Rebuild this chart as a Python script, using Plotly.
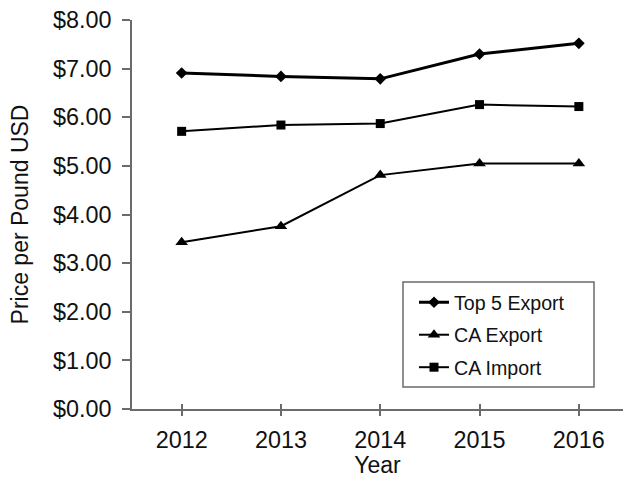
import plotly.graph_objects as go

# Average price per pound, 2012-2016
years = [2012, 2013, 2014, 2015, 2016]
top5_export = [6.91, 6.84, 6.79, 7.30, 7.52]
ca_export = [3.43, 3.76, 4.81, 5.05, 5.05]
ca_import = [5.71, 5.84, 5.87, 6.26, 6.22]

FONT = "Liberation Sans, Arial, sans-serif"
AXIS_COLOR = "#6b6b6b"
TEXT_COLOR = "#111111"

fig = go.Figure()

fig.add_trace(go.Scatter(
    x=years, y=top5_export, name="Top 5 Export", mode="lines+markers",
    line=dict(color="black", width=3),
    marker=dict(symbol="diamond", size=9, color="black"),
    legendgroup="a",
))
fig.add_trace(go.Scatter(
    x=years, y=ca_export, name="CA Export", mode="lines+markers",
    line=dict(color="black", width=2),
    marker=dict(symbol="triangle-up", size=11, color="black"),
    legendgroup="b",
))
fig.add_trace(go.Scatter(
    x=years, y=ca_import, name="CA Import", mode="lines+markers",
    line=dict(color="black", width=2),
    marker=dict(symbol="square", size=9, color="black"),
    legendgroup="c",
))
# invisible helper trace so the overlay axis (inner half of the crossing ticks) renders
fig.add_trace(go.Scatter(
    x=years, y=ca_import, xaxis="x2", mode="markers",
    marker=dict(opacity=0), showlegend=False, hoverinfo="skip",
))

W, H = 623, 478
ML, MT, MB, MR = 132, 20, 69, 0
x_lo = 2011.5
x_hi = x_lo + (W - ML - MR) / 99.3

fig.update_layout(
    width=W, height=H,
    margin=dict(l=ML, r=MR, t=MT, b=MB),
    paper_bgcolor="white", plot_bgcolor="white",
    font=dict(family=FONT, size=23, color=TEXT_COLOR),
    xaxis=dict(
        range=[x_lo, x_hi], tickvals=years, ticktext=[str(y) for y in years],
        showgrid=False, zeroline=False,
        showline=True, linecolor=AXIS_COLOR, linewidth=1.5,
        ticks="outside", ticklen=5, tickwidth=1.5, tickcolor=AXIS_COLOR,
        tickfont=dict(size=23.4), ticklabelstandoff=4,
        title=dict(text="Year", font=dict(size=23), standoff=4),
    ),
    xaxis2=dict(
        overlaying="x", matches="x", anchor="y",
        tickvals=years, showticklabels=False,
        showgrid=False, zeroline=False, showline=False,
        ticks="inside", ticklen=5, tickwidth=1.5, tickcolor=AXIS_COLOR,
    ),
    yaxis=dict(
        range=[0, 8], dtick=1, tick0=0,
        tickprefix="$", tickformat=".2f",
        showgrid=False, zeroline=False,
        showline=True, linecolor=AXIS_COLOR, linewidth=1.5,
        ticks="outside", ticklen=8, tickwidth=1.5, tickcolor=AXIS_COLOR,
        tickfont=dict(size=23.4), ticklabelstandoff=6,
        title=dict(text="Price per Pound USD", font=dict(size=23), standoff=18),
    ),
    legend=dict(
        x=(414 - ML) / (W - ML - MR), xanchor="left",
        y=(H - MB - 283) / (H - MT - MB), yanchor="top",
        bgcolor="rgba(0,0,0,0)", borderwidth=0,
        font=dict(size=19.6, family=FONT, color=TEXT_COLOR),
        tracegroupgap=4,
    ),
    shapes=[dict(
        type="rect", xref="paper", yref="paper",
        x0=(403 - ML) / (W - ML - MR), x1=(594 - ML) / (W - ML - MR),
        y0=(H - MB - 387) / (H - MT - MB), y1=(H - MB - 282) / (H - MT - MB),
        line=dict(color=AXIS_COLOR, width=1.5), fillcolor="rgba(0,0,0,0)",
    )],
)

fig.write_html("out.html")
